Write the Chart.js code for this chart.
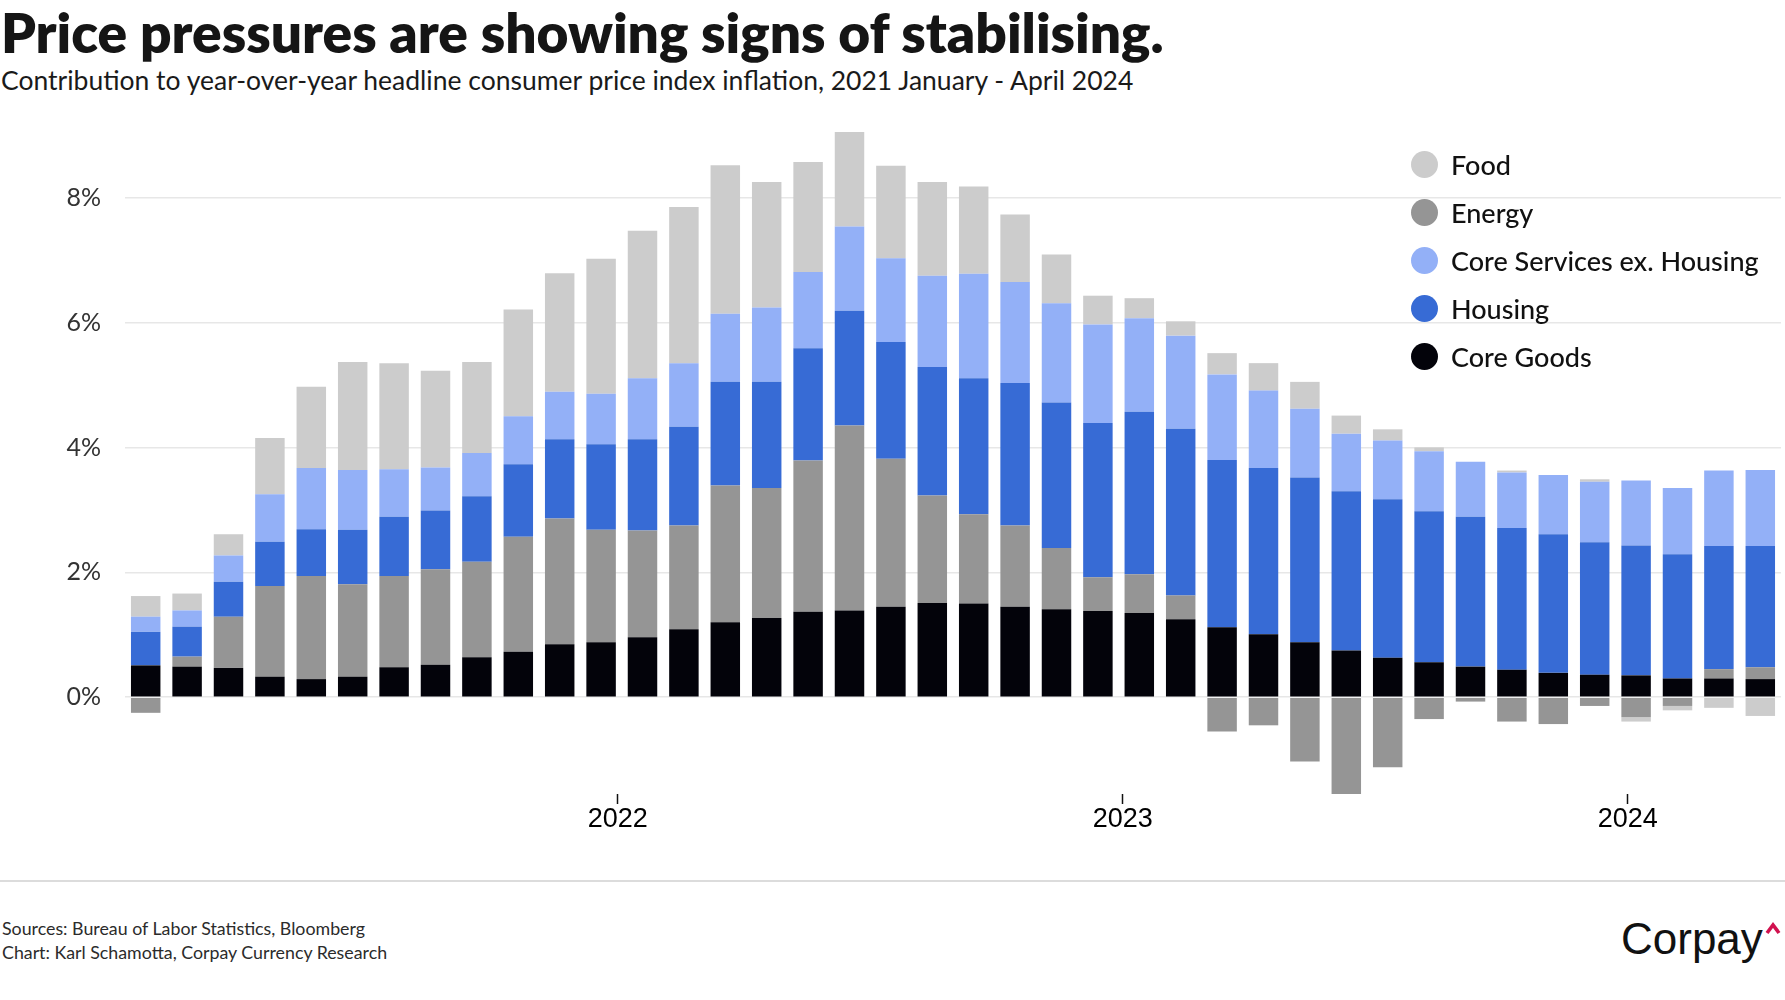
<!DOCTYPE html>
<html>
<head>
<meta charset="utf-8">
<script src="https://cdn.jsdelivr.net/npm/chart.js@4.4.1/dist/chart.umd.min.js"></script>
<style>
  html, body { margin: 0; padding: 0; background: #fff; }
  body { width: 1785px; height: 1000px; position: relative; overflow: hidden; font-family: Lato, "Noto Sans", sans-serif; color: #111; }
  .abs { position: absolute; white-space: nowrap; line-height: 1.2; }
  #title { left: 1px; top: -1px; font-size: 55px; font-weight: 800; color: #151515; }
  #subtitle { left: 1px; top: 65px; font-size: 26.5px; font-weight: 400; color: #1a1a1a; }
  #wrap { position: absolute; left: 0; top: 0; width: 1785px; height: 860px; }
  #legend { position: absolute; left: 1411px; top: 141px; }
  .item { display: flex; align-items: center; height: 47.8px; font-size: 27px; font-weight: 500; color: #111; }
  .dot { width: 27px; height: 27px; border-radius: 50%; margin-right: 13px; }
  #rule { position: absolute; left: 0; top: 880px; width: 1785px; height: 1.5px; background: #dcdcdc; }
  #foot { left: 2px; top: 916px; font-size: 17.8px; line-height: 24px; color: #2b2b2b; }
  #logo { position: absolute; left: 1621px; top: 917px; font-family: "Liberation Sans", Arial, sans-serif; font-size: 44px; line-height: 44px; color: #111; }
  #caret { position: absolute; left: 1765px; top: 922px; }
</style>
</head>
<body>
<div id="title" class="abs">Price pressures are showing signs of stabilising.</div>
<div id="subtitle" class="abs">Contribution to year-over-year headline consumer price index inflation, 2021 January - April 2024</div>
<div id="wrap"><canvas id="chart"></canvas></div>
<div id="legend"></div>
<div id="rule"></div>
<div id="foot" class="abs">Sources: Bureau of Labor Statistics, Bloomberg<br>Chart: Karl Schamotta, Corpay Currency Research</div>
<div id="logo">Corpay</div>
<svg id="caret" width="16" height="13" viewBox="0 0 16 13"><polyline points="2,11 8,3 14,11" fill="none" stroke="#d1124f" stroke-width="3.6"/></svg>
<script>
// monthly CPI contributions, Jan 2021 .. Apr 2024 (percentage points)
const months = [
  "2021-01","2021-02","2021-03","2021-04","2021-05","2021-06","2021-07","2021-08","2021-09","2021-10","2021-11","2021-12",
  "2022-01","2022-02","2022-03","2022-04","2022-05","2022-06","2022-07","2022-08","2022-09","2022-10","2022-11","2022-12",
  "2023-01","2023-02","2023-03","2023-04","2023-05","2023-06","2023-07","2023-08","2023-09","2023-10","2023-11","2023-12",
  "2024-01","2024-02","2024-03","2024-04"
];

const coreGoods = [0.51,0.49,0.47,0.33,0.29,0.33,0.48,0.52,0.64,0.73,0.85,0.88,
  0.96,1.09,1.20,1.27,1.37,1.39,1.45,1.51,1.50,1.45,1.41,1.38,
  1.35,1.25,1.12,1.01,0.88,0.75,0.63,0.56,0.49,0.44,0.39,0.36,
  0.35,0.30,0.30,0.29];
const energy = [-0.25,0.16,0.82,1.45,1.65,1.48,1.46,1.53,1.53,1.84,2.01,1.80,
  1.71,1.66,2.19,2.08,2.42,2.96,2.37,1.72,1.43,1.30,0.98,0.54,
  0.62,0.38,-0.55,-0.45,-1.03,-1.56,-1.12,-0.35,-0.07,-0.39,-0.43,-0.14,
  -0.32,-0.14,0.15,0.19];
const housing = [0.54,0.48,0.56,0.71,0.75,0.87,0.95,0.94,1.05,1.16,1.27,1.37,
  1.46,1.58,1.66,1.70,1.80,1.84,1.87,2.06,2.18,2.28,2.33,2.47,
  2.60,2.67,2.68,2.66,2.64,2.55,2.54,2.42,2.40,2.27,2.22,2.12,
  2.08,1.99,1.97,1.94];
const coreServices = [0.24,0.26,0.42,0.76,0.98,0.96,0.76,0.69,0.69,0.77,0.76,0.81,
  0.98,1.02,1.09,1.19,1.22,1.35,1.34,1.46,1.67,1.62,1.59,1.58,
  1.50,1.49,1.37,1.24,1.10,0.92,0.94,0.96,0.88,0.89,0.95,0.97,
  1.04,1.06,1.21,1.22];
const food = [0.33,0.27,0.34,0.90,1.30,1.73,1.70,1.55,1.46,1.71,1.90,2.16,
  2.36,2.50,2.38,2.01,1.76,1.51,1.48,1.50,1.40,1.08,0.78,0.46,
  0.32,0.23,0.34,0.44,0.43,0.29,0.18,0.06,0.00,0.03,0.00,0.04,
  -0.07,-0.07,-0.17,-0.30];

const yTicks = [0, 2, 4, 6, 8];
// year ticks as they sit on the original axis (month index units)
const yearTicks = [11.4, 23.6, 35.8];
const yearLabels = ["2022", "2023", "2024"];

// stacking order bottom -> top
const series = [
  { label: "Core Goods", data: coreGoods, color: "#03030a" },
  { label: "Energy", data: energy, color: "#959595" },
  { label: "Housing", data: housing, color: "#376bd5" },
  { label: "Core Services ex. Housing", data: coreServices, color: "#93b0f7" },
  { label: "Food", data: food, color: "#cccccc" }
];
const legendOrder = ["Food", "Energy", "Core Services ex. Housing", "Housing", "Core Goods"];

const legend = document.getElementById("legend");
legendOrder.forEach(name => {
  const s = series.find(d => d.label === name);
  const row = document.createElement("div");
  row.className = "item";
  row.innerHTML = `<span class="dot" style="background:${s.color}"></span><span>${s.label}</span>`;
  legend.appendChild(row);
});

const ctx = document.getElementById("chart");
new Chart(ctx, {
  type: "bar",
  data: {
    datasets: series.map(s => ({
      label: s.label,
      data: s.data.map((v, i) => ({ x: i, y: v })),
      backgroundColor: s.color,
      borderWidth: 0,
      categoryPercentage: 1,
      barPercentage: 0.712
    }))
  },
  options: {
    responsive: true,
    maintainAspectRatio: false,
    animation: false,
    layout: { padding: { top: 104, right: 4, left: 0, bottom: 0 } },
    plugins: { legend: { display: false }, tooltip: { enabled: false } },
    scales: {
      x: {
        type: "linear",
        stacked: true,
        offset: false,
        min: -0.5,
        max: 39.5,
        border: { display: false },
        grid: { offset: false, drawOnChartArea: false, drawTicks: true, tickLength: 10, tickColor: "#111", tickWidth: 1.5 },
        afterBuildTicks: (scale) => { scale.ticks = yearTicks.map(v => ({ value: v })); },
        afterFit: (scale) => { scale.height = 66; },
        ticks: {
          autoSkip: false,
          maxRotation: 0,
          padding: -1,
          color: "#000",
          font: { family: "'Liberation Sans', Arial, sans-serif", size: 27 },
          callback: (v) => yearLabels[yearTicks.indexOf(v)]
        }
      },
      y: {
        stacked: true,
        min: -1.55,
        max: 9.5,
        border: { display: false },
        grid: { color: "#e7e7e7", lineWidth: 1.5, drawTicks: false },
        afterBuildTicks: (scale) => { scale.ticks = yTicks.map(v => ({ value: v })); },
        afterFit: (scale) => { scale.width = 125; },
        ticks: {
          padding: 24,
          color: "#333",
          font: { family: "Lato", size: 25 },
          callback: (v) => v + "%"
        }
      }
    }
  }
});
</script>
</body>
</html>
